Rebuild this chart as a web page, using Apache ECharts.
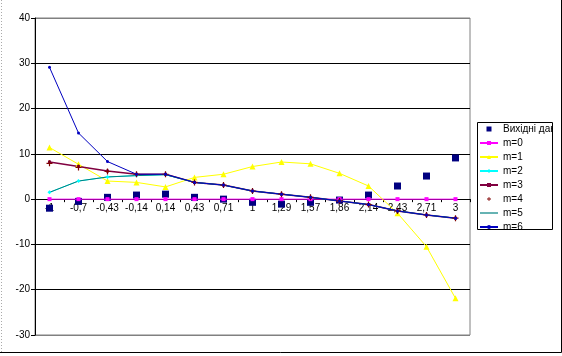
<!DOCTYPE html>
<html>
<head>
<meta charset="utf-8">
<script src="https://cdn.jsdelivr.net/npm/echarts@6/dist/echarts.min.js"></script>
<style>html,body{margin:0;padding:0;background:#fff}#c{width:562px;height:356px}</style>
</head>
<body>
<div id="c"></div>
<script>
const categories = ['-1','-0,7','-0,43','-0,14','0,14','0,43','0,71','1','1,29','1,57','1,86','2,14','2,43','2,71','3'];
const dataOrig = [-2.0, -0.5, 0.4, 0.9, 1.1, 0.4, 0.0, -0.7, -1.1, -0.7, -0.2, 0.9, 2.9, 5.1, 9.1];
const m0 = [0, 0, 0, 0, 0, 0, 0, 0, 0, 0, 0, 0, 0, 0, 0];
const m1 = [11.4, 7.7, 4.0, 3.7, 2.7, 4.8, 5.5, 7.2, 8.2, 7.8, 5.7, 2.9, -3.1, -10.5, -21.9];
const m2 = [1.5, 4.0, 4.9, 5.2, 5.4, 3.7, 3.1, 1.8, 1.1, 0.4, -0.4, -1.2, -2.6, -3.5, -4.2];
const m3 = [8.2, 7.2, 6.2, 5.5, 5.5, 3.7, 3.1, 1.8, 1.1, 0.4, -0.4, -1.2, -2.6, -3.5, -4.2];
const m4 = [7.9, 7.0, 6.1, 5.5, 5.5, 3.7, 3.1, 1.8, 1.1, 0.4, -0.4, -1.2, -2.6, -3.5, -4.2];
const m5 = [1.5, 4.0, 4.9, 5.2, 5.4, 3.7, 3.1, 1.8, 1.1, 0.4, -0.4, -1.2, -2.6, -3.5, -4.2];
const m6 = [29.1, 14.6, 8.3, 5.5, 5.5, 3.7, 3.1, 1.8, 1.1, 0.4, -0.4, -1.2, -2.6, -3.5, -4.2];
const seriesNames = ['Вихідні дані','m=0','m=1','m=2','m=3','m=4','m=5','m=6'];
const yMin = -30, yMax = 40, yStep = 10;

const font = 'Liberation Sans, Arial, sans-serif';
const plus = 'path://M4,0h2v4h4v2h-4v4h-2v-4h-4v-2h4z';
function line(name, data, color, symbol, size, width) {
  return {
    name: name, type: 'line', data: data, symbol: symbol, symbolSize: size,
    showSymbol: symbol !== 'none',
    lineStyle: { color: color, width: width },
    itemStyle: { color: color, opacity: 1 },
    emphasis: { disabled: true }, animation: false, z: 3
  };
}
const gridTop = 18, gridBottom = 21, H = 356;
const plotH = H - gridTop - gridBottom;
const zeroOffset = -plotH * (0 - yMin) / (yMax - yMin);

const chart = echarts.init(document.getElementById('c'), null, { renderer: 'canvas' });
chart.setOption({
  animation: false,
  backgroundColor: '#fff',
  grid: { left: 35, right: 92, top: gridTop, bottom: gridBottom, show: true, borderColor: '#808080', borderWidth: 1, backgroundColor: '#fff' },
  xAxis: {
    type: 'category', data: categories, boundaryGap: true, offset: zeroOffset,
    axisLine: { onZero: false, lineStyle: { color: '#000', width: 1 } },
    axisTick: { show: true, length: 3, interval: 0, lineStyle: { color: '#000' } },
    axisLabel: { interval: 0, color: '#000', fontFamily: font, fontSize: 10, margin: 4 },
    splitLine: { show: false }
  },
  yAxis: {
    type: 'value', min: yMin, max: yMax, interval: yStep,
    axisLine: { show: true, onZero: false, lineStyle: { color: '#000', width: 1 } },
    axisTick: { show: true, length: 4, lineStyle: { color: '#000' } },
    axisLabel: { color: '#000', fontFamily: font, fontSize: 10, margin: 5 },
    splitLine: { show: true, lineStyle: { color: ['#808080','#000','#000','#000','#000','#000','#000','#808080'], width: 1 } }
  },
  legend: {
    orient: 'vertical', left: 479, top: 123.5, itemWidth: 18, itemHeight: 5, itemGap: 3,
    padding: 0, symbolKeepAspect: true, z: 4,
    data: [
      { name: seriesNames[0], icon: 'path://M0,0h10v10h-10z' },
      seriesNames[1], seriesNames[2], seriesNames[3], seriesNames[4], seriesNames[5],
      { name: seriesNames[6], icon: 'path://M0,0h18v1.2h-18z' },
      seriesNames[7]
    ],
    textStyle: { color: '#000', fontFamily: font, fontSize: 10, lineHeight: 11 },
    selectedMode: false
  },
  graphic: [
    { type: 'rect', z: 20, shape: { x: 552, y: 118, width: 8, height: 20 }, style: { fill: '#fff', stroke: null } },
    { type: 'rect', z: 21, shape: { x: 477.5, y: 122.5, width: 75, height: 107 }, style: { fill: null, stroke: '#000', lineWidth: 1 } },
    { type: 'polyline', z: 21, shape: { points: [[561.5, 0], [561.5, 352.5], [0, 352.5]] }, style: { fill: null, stroke: '#000', lineWidth: 1 } },
    { type: 'line', z: 21, shape: { x1: 1.5, y1: 0, x2: 1.5, y2: 352 }, style: { stroke: '#aaa', lineWidth: 1, lineDash: [1, 2] } }
  ],
  series: [
    { name: seriesNames[0], type: 'scatter', data: dataOrig, symbol: 'rect', symbolSize: 7,
      itemStyle: { color: '#000080', opacity: 1 }, emphasis: { disabled: true }, z: 2 },
    line(seriesNames[1], m0, '#FF00FF', 'rect', 4, 1),
    line(seriesNames[2], m1, '#FFFF00', 'triangle', 6, 1),
    line(seriesNames[3], m2, '#00FFFF', 'diamond', 4, 1),
    line(seriesNames[4], m3, '#800040', 'rect', 3, 1.5),
    Object.assign(line(seriesNames[5], m4, '#800000', plus, 6, 0), { lineStyle: { width: 0, opacity: 0 } }),
    line(seriesNames[6], m5, '#008080', 'none', 0, 1),
    line(seriesNames[7], m6, '#0000C0', 'circle', 3, 1)
  ]
});
</script>
</body>
</html>
